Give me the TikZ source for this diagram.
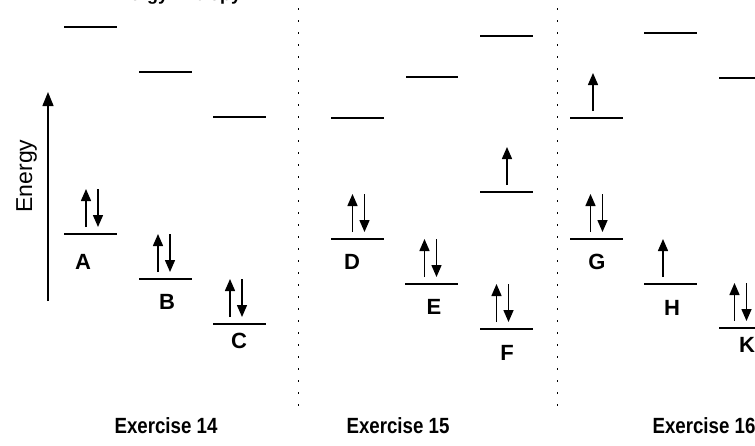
\documentclass[tikz,border=0pt]{standalone}
\usepackage{fontspec}
\setmainfont{Liberation Sans}
\newfontfamily\condfont[FakeStretch=0.85]{Liberation Sans}
\usetikzlibrary{arrows.meta}
\tikzset{
  lvl/.style={line width=1.8pt, line cap=butt},
  elec/.style={line width=1.5pt, -{Triangle[length=12pt,width=10pt]}},
  axis/.style={line width=1.3pt, -{Triangle[length=14pt,width=11pt]}},
  sep/.style={line width=1.6pt, dash pattern=on 1.6pt off 10.4pt},
  lab/.style={font=\fontsize{22}{26}\selectfont\bfseries, inner sep=0pt},
  exlab/.style={font=\condfont\fontsize{22}{26}\selectfont\bfseries, inner sep=0pt, anchor=base},
}
% \lv{name}{x1}{x2}{y}
\newcommand{\lv}[4]{\coordinate (#1L) at (#2,#4); \coordinate (#1R) at (#3,#4); \draw[lvl] (#1L) -- (#1R);}
% paired electrons centred at x above level y
\newcommand{\pairel}[3]{%
  \coordinate (#1ub) at ({#2-6},{#3-7}); \coordinate (#1ut) at ({#2-6},{#3-45});
  \coordinate (#1dt) at ({#2+6},{#3-45}); \coordinate (#1db) at ({#2+6},{#3-7});
  \draw[elec] (#1ub) -- (#1ut); \draw[elec] (#1dt) -- (#1db);}
\newcommand{\singel}[3]{%
  \coordinate (#1ub) at (#2,{#3-7}); \coordinate (#1ut) at (#2,{#3-45});
  \draw[elec] (#1ub) -- (#1ut);}
\begin{document}
\begin{tikzpicture}[x=1pt,y=-1pt]
\useasboundingbox (0,0) rectangle (755,445);
\begin{scope}
\clip (0,0) rectangle (755,445);
\node[anchor=base west, inner sep=0pt, font=\fontsize{18}{20}\selectfont\bfseries] (title) at (107,0.5) {Energy Entropy};
\end{scope}

% energy axis
\coordinate (axb) at (48,301);
\coordinate (axt) at (48,92);
\draw[axis] (axb) -- (axt);
\node[rotate=90, anchor=base, inner sep=0pt, font=\fontsize{23}{26}\selectfont] (energy) at (32,176) {Energy};

% separators
\coordinate (s1t) at (298.5,8.2); \coordinate (s1b) at (298.5,410);
\coordinate (s2t) at (557.5,8.2); \coordinate (s2b) at (557.5,410);
\draw[sep] (s1t) -- (s1b);
\draw[sep] (s2t) -- (s2b);

% Exercise 14
\lv{Au}{64}{117}{27}
\lv{Bu}{139}{192}{72}
\lv{Cu}{213}{266}{117}
\lv{A}{64}{117}{234}
\lv{B}{139}{192}{279}
\lv{C}{213}{266}{324}
\pairel{ea}{92}{234}
\pairel{eb}{164}{279}
\pairel{ec}{236}{324}
\node[lab] (la) at (83,262) {A};
\node[lab] (lb) at (167,302) {B};
\node[lab] (lc) at (239,341) {C};

% Exercise 15
\lv{Du}{331}{384}{118}
\lv{Eu}{406}{458}{77}
\lv{Fu}{480}{533}{36}
\lv{Fm}{480}{533}{192}
\lv{D}{331}{384}{239}
\lv{E}{405}{458}{284}
\lv{F}{480}{533}{329}
\singel{efm}{507}{192}
\pairel{ed}{358.5}{239}
\pairel{ee}{430.5}{284}
\pairel{ef}{502.5}{329}
\node[lab] (ld) at (352,262) {D};
\node[lab] (le) at (434,307) {E};
\node[lab] (lf) at (507,353) {F};

% Exercise 16
\lv{Gu}{570}{623}{118}
\lv{Hu}{644}{697}{33}
\lv{Ku}{719}{760}{78}
\lv{G}{570}{623}{239}
\lv{H}{644}{697}{284}
\lv{K}{719}{760}{328}
\singel{egu}{593}{118}
\pairel{eg}{596.5}{239}
\singel{eh}{663}{284}
\pairel{ek}{740.5}{328}
\node[lab] (lg) at (597,262) {G};
\node[lab] (lh) at (672,308) {H};
\node[lab] (lk) at (747,345) {K};

% exercise labels
\node[exlab] (x14) at (166,433) {Exercise 14};
\node[exlab] (x15) at (398,433) {Exercise 15};
\node[exlab] (x16) at (704,433) {Exercise 16};
\end{tikzpicture}
\end{document}
